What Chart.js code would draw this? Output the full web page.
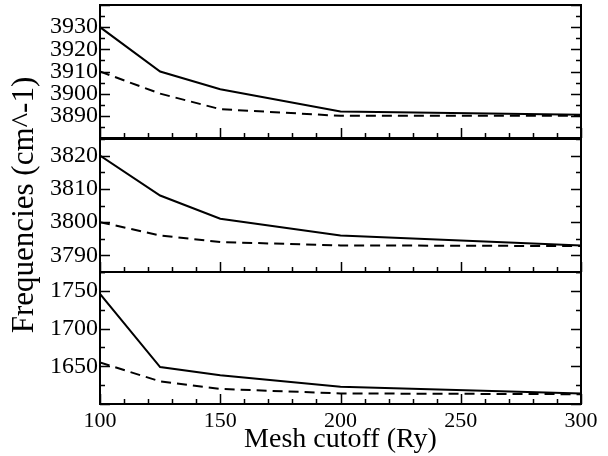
<!DOCTYPE html>
<html>
<head>
<meta charset="utf-8">
<script src="https://cdn.jsdelivr.net/npm/chart.js@4/dist/chart.umd.min.js"></script>
<style>
  body { margin: 0; background: #fff; }
  #wrap { position: relative; width: 608px; height: 456px; }
  #wrap canvas { position: absolute; left: 0; top: 0; }
</style>
</head>
<body>
<div id="wrap">
  <canvas id="c1" width="608" height="456"></canvas>
  <canvas id="c2" width="608" height="456"></canvas>
  <canvas id="c3" width="608" height="456"></canvas>
</div>
<script>
// Mesh cutoff (Ry) on x
const meshCutoff = [100, 125, 150, 200, 300];

// top panel
const topSolid  = [3930, 3910, 3902, 3892, 3890.5];
const topDashed = [3910, 3900, 3893, 3890, 3890];
const topTicks  = [3890, 3900, 3910, 3920, 3930];

// middle panel
const midSolid  = [3820, 3808, 3801, 3796, 3793];
const midDashed = [3800, 3796, 3794, 3793, 3792.8];
const midTicks  = [3790, 3800, 3810, 3820];

// bottom panel
const botSolid  = [1746, 1649, 1638, 1623, 1614];
const botDashed = [1655, 1630, 1620, 1614, 1613];
const botTicks  = [1650, 1700, 1750];

const xTicks = [100, 150, 200, 250, 300];

const FONT = "'Liberation Serif', 'Times New Roman', serif";

// frame + inward ticks, like xmgrace
const framePlugin = {
    id: 'frame',
    afterDraw(chart, args, opts) {
        const ctx = chart.ctx;
        const a = chart.chartArea;
        const xs = chart.scales.x, ys = chart.scales.y;
        ctx.save();
        ctx.strokeStyle = '#000';
        ctx.lineWidth = 1.5;
        ctx.beginPath();
        // y ticks, both sides
        for (let v = ys.min; v <= ys.max + 1e-9; v += opts.yMinor) {
            const y = Math.round(ys.getPixelForValue(v)) + 0.5;
            const major = Math.abs(v / opts.yMajor - Math.round(v / opts.yMajor)) < 1e-6;
            const len = major ? 10 : 5;
            ctx.moveTo(a.left, y); ctx.lineTo(a.left + len, y);
            ctx.moveTo(a.right, y); ctx.lineTo(a.right - len, y);
        }
        // x ticks on bottom edge
        for (let v = xs.min; v <= xs.max + 1e-9; v += 10) {
            const x = Math.round(xs.getPixelForValue(v)) + 0.5;
            const len = (v % 50 === 0) ? 10 : 5;
            ctx.moveTo(x, a.bottom); ctx.lineTo(x, a.bottom - len);
        }
        ctx.stroke();
        ctx.lineWidth = 2;
        ctx.strokeRect(a.left, a.top, a.right - a.left, a.bottom - a.top);

        if (opts.yTitle) {
            ctx.fillStyle = '#000';
            ctx.font = '31px ' + FONT;
            ctx.textAlign = 'center';
            ctx.textBaseline = 'middle';
            ctx.translate(25, 205);
            ctx.rotate(-Math.PI / 2);
            ctx.fillText(opts.yTitle, 0, 0);
        }
        ctx.restore();
    }
};

function makePanel(id, solid, dashed, yTicks, yMin, yMax, yMajor, yMinor, padTop, padBottom, showX, yTitle) {
    new Chart(document.getElementById(id), {
        type: 'line',
        data: {
            labels: meshCutoff,
            datasets: [
                { data: solid, borderColor: '#000', borderWidth: 2, pointRadius: 0, tension: 0, fill: false },
                { data: dashed, borderColor: '#000', borderWidth: 2, borderDash: [10, 6], pointRadius: 0, tension: 0, fill: false }
            ]
        },
        options: {
            responsive: false,
            animation: false,
            layout: { padding: { left: 0, right: 27, top: padTop, bottom: padBottom } },
            plugins: {
                legend: { display: false },
                tooltip: { enabled: false },
                frame: { yMajor: yMajor, yMinor: yMinor, yTitle: yTitle }
            },
            scales: {
                x: {
                    type: 'linear',
                    min: 100, max: 300,
                    display: showX,
                    grid: { display: false, drawTicks: false },
                    border: { display: false },
                    ticks: {
                        padding: 4,
                        color: '#000',
                        font: { family: FONT, size: 22 },
                        callback: (v) => String(v)
                    },
                    title: {
                        display: true,
                        text: 'Mesh cutoff (Ry)',
                        color: '#000',
                        font: { family: FONT, size: 28 },
                        padding: { top: 0, bottom: 0 }
                    },
                    afterBuildTicks(scale) {
                        scale.ticks = xTicks.map(v => ({ value: v }));
                    },
                    afterFit(scale) {
                        scale.height = showX ? 52 : 0;
                        scale.paddingLeft = 0;
                        scale.paddingRight = 0;
                    }
                },
                y: {
                    min: yMin, max: yMax,
                    grid: { display: false, drawTicks: false },
                    border: { display: false },
                    ticks: {
                        autoSkip: false,
                        padding: 2,
                        color: '#000',
                        font: { family: FONT, size: 24 },
                        callback: (v) => String(v)
                    },
                    afterBuildTicks(scale) {
                        scale.ticks = yTicks.map(v => ({ value: v }));
                    },
                    afterFit(scale) {
                        scale.width = 100;
                        scale.paddingTop = 0;
                        scale.paddingBottom = 0;
                    }
                }
            }
        },
        plugins: [framePlugin]
    });
}

const linePoints = (ys) => ys.map((y, i) => ({ x: meshCutoff[i], y: y }));

makePanel('c1', linePoints(topSolid), linePoints(topDashed), topTicks, 3880, 3940, 10, 5, 5, 318, false, null);
makePanel('c2', linePoints(midSolid), linePoints(midDashed), midTicks, 3785, 3825, 10, 5, 139, 184, false, null);
makePanel('c3', linePoints(botSolid), linePoints(botDashed), botTicks, 1600, 1775, 50, 25, 272, 0, true, 'Frequencies (cm^-1)');
</script>
</body>
</html>
